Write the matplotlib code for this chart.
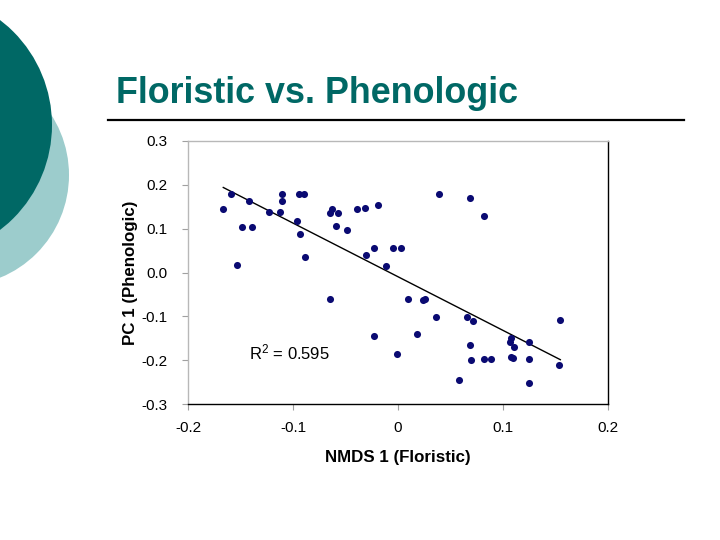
import numpy as np
import matplotlib
matplotlib.use('Agg')
import matplotlib.pyplot as plt
from matplotlib.patches import Circle

plt.rcParams['font.family'] = ['Liberation Sans', 'DejaVu Sans']
plt.rcParams['mathtext.default'] = 'regular'

# NMDS axis 1 (floristic) vs PC 1 (phenologic)
nmds1 = [-0.1664, -0.1588, -0.1537, -0.1483, -0.1422, -0.1390, -0.1229, -0.1127,
         -0.1102, -0.1105, -0.0962, -0.0943, -0.0892, -0.0933, -0.0886, -0.0648,
         -0.0629, -0.0574, -0.0590, -0.0489, -0.0394, -0.0314, -0.0187, -0.0225,
         -0.0307, -0.0052, 0.0029, -0.0110, 0.0390, 0.0686, 0.0816, -0.0644,
         -0.0229, -0.0010, 0.0092, 0.0238, 0.0257, 0.0362, 0.0184, 0.0578,
         0.0654, 0.0711, 0.0689, 0.0695, 0.0822, 0.0883, 0.1079, 0.1064,
         0.1105, 0.1079, 0.1095, 0.1251, 0.1251, 0.1248, 0.1546, 0.1536]
pc1 = [0.145, 0.178, 0.018, 0.104, 0.163, 0.104, 0.137, 0.139,
       0.178, 0.164, 0.117, 0.178, 0.178, 0.088, 0.036, 0.136,
       0.144, 0.136, 0.105, 0.096, 0.145, 0.147, 0.155, 0.056,
       0.040, 0.056, 0.056, 0.015, 0.178, 0.171, 0.129, -0.060,
       -0.146, -0.187, -0.061, -0.063, -0.060, -0.102, -0.140, -0.246,
       -0.102, -0.110, -0.165, -0.199, -0.197, -0.197, -0.149, -0.158,
       -0.170, -0.193, -0.194, -0.158, -0.198, -0.252, -0.109, -0.211]
r_squared = 0.595

xticks = [-0.2, -0.1, 0, 0.1, 0.2]
xticklabels = ['-0.2', '-0.1', '0', '0.1', '0.2']
yticks = [-0.3, -0.2, -0.1, 0.0, 0.1, 0.2, 0.3]
yticklabels = ['-0.3', '-0.2', '-0.1', '0.0', '0.1', '0.2', '0.3']

TEAL = '#006865'
LIGHT = '#9ccccc'
NAVY = '#0a0a72'

fig = plt.figure(figsize=(7.2, 5.4), dpi=100)

# slide background (pixel coordinates)
bg = fig.add_axes([0, 0, 1, 1])
bg.set_xlim(0, 720); bg.set_ylim(540, 0)
bg.axis('off')
bg.add_patch(Circle((-42, 175), 111, color=LIGHT, lw=0))
bg.add_patch(Circle((-80, 125), 132, color=TEAL, lw=0))
bg.text(116, 103, 'Floristic vs. Phenologic', fontsize=25.8, fontweight='bold',
        color=TEAL, va='baseline', ha='left')
bg.plot([108, 684], [120, 120], color='black', lw=1.6)

ax = fig.add_axes([188/720, 1 - 404/540, 420/720, 263/540])
ax.scatter(nmds1, pc1, s=26, color=NAVY, zorder=3, linewidths=0)

# linear trendline
x = np.array(nmds1)
coef = np.polyfit(x, np.array(pc1), 1)
xl = np.array([x.min(), x.max()])
ax.plot(xl, np.polyval(coef, xl), color='black', lw=1.0, zorder=2)

ax.text(-0.142, -0.183, f'R$^2$ = {r_squared}', fontsize=12, ha='left', va='center')

ax.set_xlim(-0.2, 0.2)
ax.set_ylim(-0.3, 0.3)
ax.set_xticks(xticks)
ax.set_xticklabels(xticklabels, fontsize=11)
ax.set_yticks(yticks)
ax.set_yticklabels(yticklabels, fontsize=11)
ax.tick_params(colors='#a0a0a0', labelcolor='black', length=4, width=0.8)
ax.tick_params(axis='y', pad=11)
ax.tick_params(axis='x', pad=8)

for side in ['top', 'left']:
    ax.spines[side].set_color('#b8b8b8')
for side in ['right', 'bottom']:
    ax.spines[side].set_color('black')
for s in ax.spines.values():
    s.set_linewidth(1.0)

ax.set_xlabel('NMDS 1 (Floristic)', fontsize=12.2, fontweight='bold', labelpad=11)
ax.set_ylabel('PC 1 (Phenologic)', fontsize=12.2, fontweight='bold', labelpad=2)

fig.savefig('out.png', dpi=100)
